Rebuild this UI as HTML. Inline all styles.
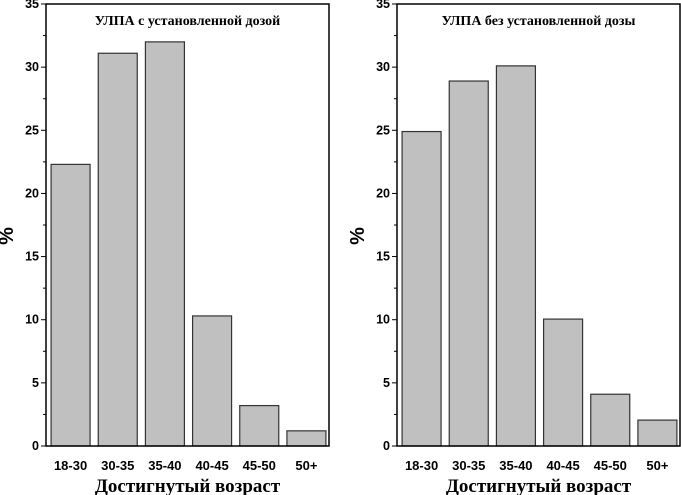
<!DOCTYPE html>
<html><head><meta charset="utf-8"><style>
html,body{margin:0;padding:0;background:#fff;}
svg{display:block;}
</style></head><body>
<svg id="c" width="681" height="495" xmlns="http://www.w3.org/2000/svg"></svg>
<script>
const categories = ["18-30","30-35","35-40","40-45","45-50","50+"];
const leftValues = [22.3, 31.1, 32.0, 10.3, 3.2, 1.2];
const rightValues = [24.9, 28.9, 30.1, 10.05, 4.1, 2.05];
const yTicks = [0,5,10,15,20,25,30,35];
const titles = ["УЛПА с установленной дозой","УЛПА без установленной дозы"];
const NS = "http://www.w3.org/2000/svg";
const svg = document.getElementById('c');
function mk(tag, attrs, parent){const e=document.createElementNS(NS,tag);for(const k in attrs)e.setAttribute(k,attrs[k]);(parent||svg).appendChild(e);return e;}
function panel(x0, x1, values, title, key){
  const top=4, bot=446, ymax=35;
  const g=mk('g',{});
  
  
  const y=v=>bot-(v/ymax)*(bot-top);
  const slot=(x1-x0)/categories.length;
  const xc=i=>x0+1+slot*(i+0.5);
  const bw=39;
  values.forEach((v,i)=>{
    const r=mk('rect',{x:xc(i)-bw/2,y:y(v),width:bw,height:bot-y(v),fill:'#c0c0c0',stroke:'#333','stroke-width':1.2},g);
    
    
    const t=mk('text',{x:xc(i),y:470,'text-anchor':'middle','font-family':'Liberation Sans, sans-serif','font-size':13,'font-weight':'bold'},g);
    t.textContent=categories[i];
    
    
  });
  const box=mk('rect',{x:x0,y:top,width:x1-x0,height:bot-top,fill:'none',stroke:'#000','stroke-width':1.5},g);
  
  
  for(let v=0; v<=ymax; v+=2.5){
    const major = v%5===0;
    mk('line',{x1:x0-(major?5:3),x2:x0,y1:y(v),y2:y(v),stroke:'#000','stroke-width':1},g);
  }
  yTicks.forEach(v=>{
    const t=mk('text',{x:x0-7,y:y(v)+4,'text-anchor':'end','font-family':'Liberation Sans, sans-serif','font-size':12.5,'font-weight':'bold'},g);
    t.textContent=v;
    
    
  });
  const tt=mk('text',{x:(x0+x1)/2,y:25,'text-anchor':'middle','font-family':'Liberation Serif, serif','font-size':14,'font-weight':'bold'},g);
  tt.textContent=title;
  
  
  const xa=mk('text',{x:(x0+x1)/2,y:492,'text-anchor':'middle','font-family':'Liberation Serif, serif','font-size':19,'font-weight':'bold'},g);
  xa.textContent='Достигнутый возраст';
  
  
  const ya=mk('text',{x:x0-33,y:236,'text-anchor':'middle','font-family':'Liberation Sans, sans-serif','font-size':20,'font-weight':'bold',transform:'rotate(-90 '+(x0-33)+' 236)'},g);
  ya.textContent='%';
  
  
}
panel(46, 329, leftValues, titles[0], 'left');
panel(397, 680, rightValues, titles[1], 'right');
</script>
</body></html>
